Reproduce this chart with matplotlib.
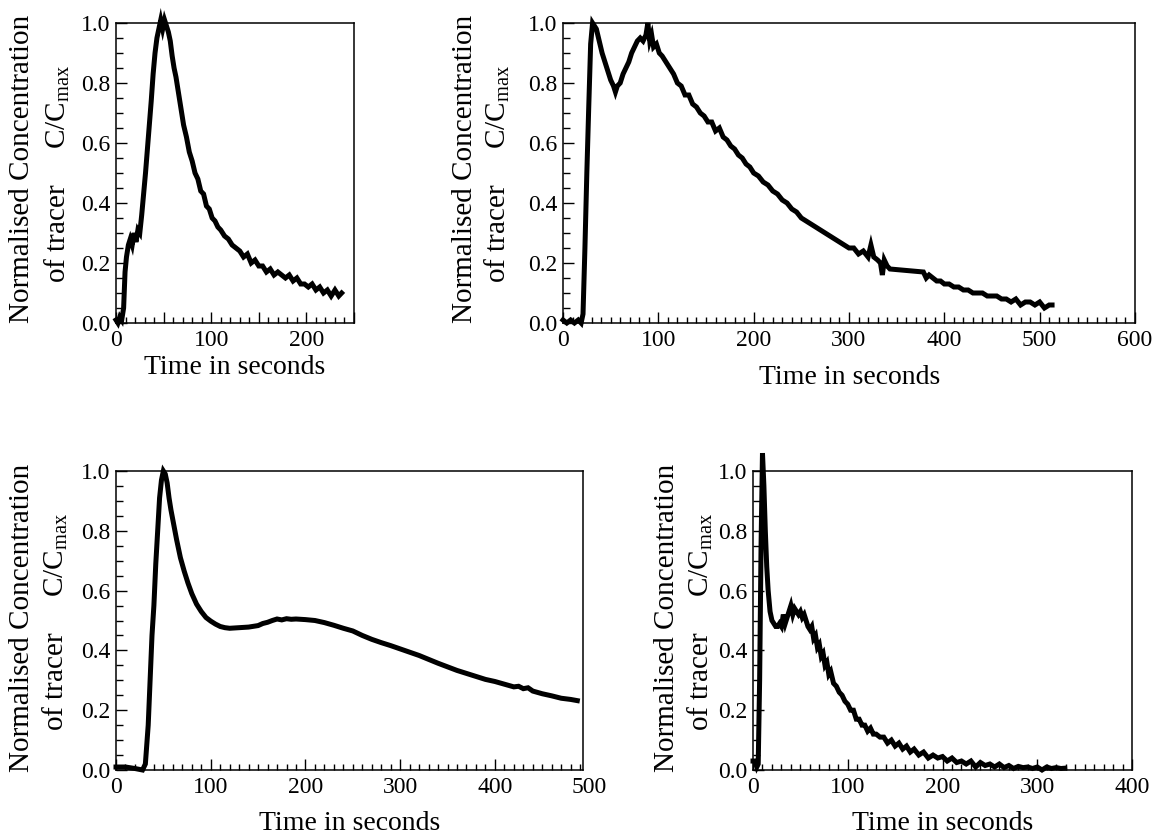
import matplotlib
matplotlib.use("Agg")
import matplotlib.pyplot as plt
from matplotlib.ticker import MultipleLocator, FuncFormatter

plt.rcParams["font.family"] = ["Liberation Serif", "DejaVu Serif"]
plt.rcParams["mathtext.fontset"] = "custom"
plt.rcParams["mathtext.rm"] = "Liberation Serif"

# --- data ---
t1 = [0, 2, 4, 6, 8, 9.5, 11, 13, 15, 17, 19, 21, 23, 25, 27, 29, 31, 33, 35, 37,
      39, 41, 43, 45, 47, 49, 51, 53, 55, 57, 59, 61, 63, 65, 68, 71, 74, 77, 80, 83,
      86, 89, 92, 95, 98, 101, 104, 107, 110, 114, 118, 122, 126, 130, 134, 138, 142,
      146, 150, 154, 158, 162, 166, 170, 174, 178, 182, 186, 190, 194, 198, 202, 206,
      210, 214, 218, 222, 226, 230, 234, 237]
c1 = [0.01, 0.0, 0.02, 0.01, 0.05, 0.17, 0.22, 0.26, 0.28, 0.26, 0.30, 0.27, 0.31, 0.30,
      0.36, 0.43, 0.50, 0.58, 0.66, 0.74, 0.83, 0.90, 0.95, 0.98, 1.01, 0.98, 1.01, 0.99,
      0.97, 0.94, 0.89, 0.85, 0.82, 0.78, 0.72, 0.66, 0.62, 0.57, 0.54, 0.50, 0.48, 0.44,
      0.43, 0.39, 0.38, 0.35, 0.34, 0.32, 0.31, 0.29, 0.28, 0.26, 0.25, 0.24, 0.22, 0.23,
      0.20, 0.21, 0.19, 0.19, 0.17, 0.18, 0.16, 0.17, 0.16, 0.15, 0.16, 0.14, 0.15, 0.13,
      0.13, 0.12, 0.13, 0.11, 0.12, 0.10, 0.11, 0.09, 0.11, 0.09, 0.10]

t2 = [0, 4, 8, 12, 16, 19, 21, 23, 25, 27, 29, 31, 33, 35, 38, 41, 44, 47, 50, 53, 55,
      57, 60, 63, 66, 69, 72, 75, 78, 81, 84, 87, 89, 91, 93, 95, 98, 101, 104, 108, 112,
      116, 120, 124, 128, 132, 136, 140, 144, 148, 152, 156, 160, 164, 168, 172, 176, 180,
      184, 188, 192, 196, 200, 205, 210, 215, 220, 225, 230, 235, 240, 245, 250, 255, 260,
      265, 270, 275, 280, 285, 290, 295, 300, 305, 310, 315, 320, 323, 326, 330, 333, 335,
      337, 340, 343, 378, 381, 384, 388, 392, 396, 400, 405, 410, 415, 420, 425, 430, 435,
      440, 445, 450, 455, 460, 465, 470, 475, 480, 485, 490, 495, 500, 505, 510, 513]
c2 = [0.01, 0.0, 0.01, 0.0, 0.01, 0.0, 0.03, 0.25, 0.50, 0.72, 0.93, 1.0, 0.99, 0.98,
      0.94, 0.90, 0.87, 0.84, 0.81, 0.79, 0.77, 0.79, 0.80, 0.83, 0.85, 0.87, 0.90, 0.92,
      0.94, 0.95, 0.94, 0.96, 1.0, 0.94, 0.96, 0.92, 0.93, 0.90, 0.89, 0.87, 0.85, 0.83,
      0.80, 0.79, 0.76, 0.76, 0.73, 0.72, 0.70, 0.69, 0.67, 0.67, 0.64, 0.65, 0.62, 0.61,
      0.59, 0.58, 0.56, 0.55, 0.53, 0.52, 0.50, 0.49, 0.47, 0.46, 0.44, 0.43, 0.41, 0.40,
      0.38, 0.37, 0.35, 0.34, 0.33, 0.32, 0.31, 0.30, 0.29, 0.28, 0.27, 0.26, 0.25, 0.25,
      0.23, 0.24, 0.22, 0.26, 0.22, 0.21, 0.20, 0.16, 0.21, 0.19, 0.18, 0.17, 0.15, 0.16,
      0.15, 0.14, 0.14, 0.13, 0.13, 0.12, 0.12, 0.11, 0.11, 0.10, 0.10, 0.10, 0.09, 0.09,
      0.09, 0.08, 0.08, 0.07, 0.08, 0.06, 0.07, 0.07, 0.06, 0.07, 0.05, 0.06, 0.06]

t3 = [0, 10, 20, 28, 31, 34, 36, 38, 40, 42, 44, 46, 48, 50, 52, 54, 56, 58, 61, 64, 68,
      72, 76, 80, 85, 90, 95, 100, 105, 110, 115, 120, 130, 140, 150, 155, 160, 165, 170,
      175, 180, 185, 190, 200, 210, 220, 230, 240, 250, 260, 270, 280, 290, 300, 310, 320,
      330, 340, 350, 360, 370, 380, 390, 400, 410, 420, 425, 430, 435, 440, 450, 460, 470,
      480, 487]
c3 = [0.01, 0.01, 0.005, 0.0, 0.02, 0.15, 0.30, 0.45, 0.55, 0.69, 0.80, 0.91, 0.97, 1.0,
      0.99, 0.96, 0.91, 0.87, 0.82, 0.77, 0.71, 0.665, 0.625, 0.59, 0.555, 0.53, 0.51,
      0.498, 0.488, 0.48, 0.476, 0.474, 0.476, 0.478, 0.483, 0.49, 0.494, 0.50, 0.505,
      0.502, 0.506, 0.504, 0.505, 0.503, 0.50, 0.493, 0.484, 0.474, 0.465, 0.45, 0.437,
      0.426, 0.416, 0.405, 0.394, 0.383, 0.37, 0.357, 0.345, 0.333, 0.323, 0.313, 0.303,
      0.296, 0.287, 0.278, 0.28, 0.272, 0.275, 0.264, 0.255, 0.248, 0.24, 0.236, 0.232]

t4 = [0, 2, 4, 5.5, 7, 8.5, 10, 11.5, 13, 14.5, 16, 18, 20, 22, 24, 26, 28, 30, 32, 34,
      36, 38, 40, 42, 44, 46, 48, 50, 52, 54, 56, 58, 60, 62, 64, 66, 68, 70, 72, 74, 76,
      78, 80, 82, 85, 88, 91, 94, 97, 100, 103, 106, 109, 112, 115, 118, 121, 124, 127,
      130, 134, 138, 142, 146, 150, 154, 158, 162, 166, 170, 175, 180, 185, 190, 195, 200,
      205, 210, 215, 220, 225, 230, 235, 240, 245, 250, 255, 260, 265, 270, 275, 280, 285,
      290, 295, 300, 305, 310, 315, 320, 325, 329]
c4 = [0.03, 0.03, 0.01, 0.02, 0.30, 0.75, 1.06, 0.95, 0.80, 0.68, 0.60, 0.53, 0.50, 0.49,
      0.48, 0.48, 0.49, 0.48, 0.52, 0.49, 0.51, 0.53, 0.55, 0.52, 0.54, 0.53, 0.52, 0.53,
      0.51, 0.52, 0.50, 0.48, 0.47, 0.48, 0.44, 0.45, 0.41, 0.42, 0.38, 0.39, 0.35, 0.36,
      0.32, 0.33, 0.29, 0.28, 0.26, 0.25, 0.23, 0.22, 0.20, 0.20, 0.17, 0.17, 0.15, 0.15,
      0.13, 0.14, 0.12, 0.12, 0.11, 0.11, 0.09, 0.10, 0.08, 0.09, 0.07, 0.08, 0.06, 0.07,
      0.05, 0.06, 0.04, 0.05, 0.04, 0.045, 0.03, 0.04, 0.025, 0.03, 0.02, 0.03, 0.01,
      0.025, 0.015, 0.02, 0.01, 0.02, 0.008, 0.015, 0.005, 0.012, 0.008, 0.01, 0.005,
      0.01, 0.0, 0.01, 0.005, 0.008, 0.005, 0.006]

W, H = 1165, 839
fig = plt.figure(figsize=(W / 100, H / 100), dpi=100)


def px_rect(left, right, top, bottom):
    return [left / W, 1 - bottom / H, (right - left) / W, (bottom - top) / H]


def fig_text(x, y, s, **kw):
    fig.text(x / W, 1 - y / H, s, ha="center", va="center", **kw)


def panel(rect, t, c, xmax, xmajor, ylab_x, ylab_y, xlab_xy, extra_label=None):
    ax = fig.add_axes(px_rect(*rect))
    ax.plot(t, c, color="black", lw=3.6, solid_joinstyle="miter", clip_on=False)
    ax.set_xlim(0, xmax)
    ax.set_ylim(0, 1.0)
    ax.xaxis.set_major_locator(MultipleLocator(xmajor))
    ax.xaxis.set_minor_locator(MultipleLocator(10))
    ax.xaxis.set_major_formatter(
        FuncFormatter(lambda v, p: f"{v:.0f}" if v % 100 == 0 else ""))
    ax.yaxis.set_major_locator(MultipleLocator(0.2))
    ax.yaxis.set_minor_locator(MultipleLocator(0.05))
    ax.yaxis.set_major_formatter(FuncFormatter(lambda v, p: f"{v:.1f}"))
    ax.tick_params(which="both", direction="in", top=False, right=False,
                   width=1, labelsize=17)
    ax.tick_params(axis="x", which="major", length=8, pad=5)
    ax.tick_params(axis="x", which="minor", length=4)
    ax.tick_params(axis="y", which="major", length=8, pad=4)
    ax.tick_params(axis="y", which="minor", length=5)
    for s in ax.spines.values():
        s.set_linewidth(1.1)
    if extra_label is not None:
        # the last tick label sits just past the end of the axis
        ax.annotate(f"{extra_label:.0f}", xy=(extra_label, 0),
                    xycoords=("data", "axes fraction"), xytext=(0, -5),
                    textcoords="offset points", ha="center", va="top",
                    fontsize=17, annotation_clip=False)
    fig_text(ylab_x[0], ylab_y[0], "Normalised Concentration", rotation=90, fontsize=21)
    fig_text(ylab_x[1], ylab_y[1], r"of tracer     $\mathrm{C/C_{max}}$",
             rotation=90, fontsize=21)
    fig_text(xlab_xy[0], xlab_xy[1], "Time in seconds", fontsize=20)
    return ax


panel((116, 354, 23, 323), t1, c1, 250, 50, (22, 57), (169, 174), (235, 368))
panel((563, 1135, 23, 323), t2, c2, 600, 100, (465, 497), (169, 174), (850, 378))
panel((116, 583, 471, 770), t3, c3, 493, 100, (22, 55), (618, 622), (350, 824),
      extra_label=500)
panel((753, 1132, 471, 770), t4, c4, 400, 100, (667, 700), (618, 622), (943, 824))

fig.savefig("out.png", dpi=100)
